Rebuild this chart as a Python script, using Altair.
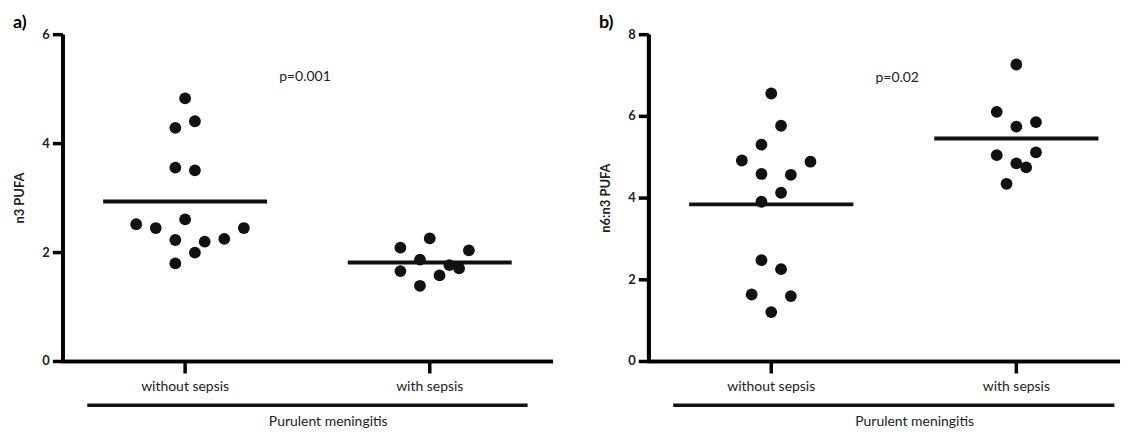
import altair as alt
import pandas as pd

# ---- data ----
groups = ["without sepsis", "with sepsis"]

# panel a) n3 PUFA
a_without = [4.83, 4.29, 4.41, 3.56, 3.51, 2.52, 2.45, 2.61, 2.23, 2.20, 2.25, 2.45, 2.00, 1.80]
a_without_slot = [0, -1, 1, -1, 1, -5, -3, 0, -1, 2, 4, 6, 1, -1]
a_with = [2.09, 2.26, 2.04, 1.87, 1.66, 1.77, 1.71, 1.58, 1.39]
a_with_slot = [-3, 0, 4, -1, -3, 2, 3, 1, -1]

# panel b) n6:n3 PUFA
b_without = [6.56, 5.77, 5.31, 4.92, 4.89, 4.59, 4.57, 4.13, 3.91, 2.48, 2.26, 1.64, 1.60, 1.21]
b_without_slot = [0, 1, -1, -3, 4, -1, 2, 1, -1, -1, 1, -2, 2, 0]
b_with = [7.27, 6.11, 5.75, 5.86, 5.05, 5.12, 4.85, 4.75, 4.35]
b_with_slot = [0, -2, 0, 2, -2, 2, 0, 1, -1]

y_ticks_a = [0, 2, 4, 6]
y_ticks_b = [0, 2, 4, 6, 8]

FONT = "Lato"
INK = "#111111"
TXT = "#222222"
H = 328
AXW = 3.5


def panel(tag, ytitle, yticks, without, wslot, with_, wthslot, ptext, p_x, p_y, width, xmax):
    rows = []
    for v, s in zip(without, wslot):
        rows.append({"g": 0, "v": v, "slot": s})
    for v, s in zip(with_, wthslot):
        rows.append({"g": 1, "v": v, "slot": s})
    df = pd.DataFrame(rows)

    xscale = alt.Scale(domain=[-0.5, xmax], nice=False, zero=False)
    yscale = alt.Scale(domain=[yticks[0], yticks[-1]], nice=False)

    def X(f):
        return alt.X(f, type="quantitative", scale=xscale, axis=None)

    def Y(f):
        return alt.Y(f, type="quantitative", scale=yscale, axis=None)

    base = alt.Chart(df)
    pts = base.transform_calculate(xp="datum.g + datum.slot * 0.04").mark_circle(
        size=140, color=INK, opacity=1).encode(x=X("xp"), y=Y("v"))

    mean = base.transform_aggregate(m="mean(v)", groupby=["g"]).transform_calculate(
        x1="datum.g - 0.335", x2="datum.g + 0.335").mark_rule(
        strokeWidth=4, color=INK).encode(x=X("x1"), x2="x2:Q", y=Y("m"))

    txt = alt.Chart(pd.DataFrame({"t": [ptext]})).transform_calculate(
        px=str(p_x), py=str(p_y)).mark_text(
        font=FONT, fontSize=14, color=TXT).encode(x=X("px"), y=Y("py"), text="t:N")

    # ---- y axis (drawn from the scale) ----
    ydf = pd.DataFrame({"v": yticks})
    ydomain = alt.Chart(ydf).mark_rule(strokeWidth=AXW, color="black").encode(
        x=alt.value(0), y=alt.value(0), y2=alt.value(H + 1.5))
    yticks_m = alt.Chart(ydf).mark_rule(strokeWidth=AXW, color="black").encode(
        y=Y("v"), x=alt.value(-10), x2=alt.value(0))
    ylabels = alt.Chart(ydf).mark_text(
        font=FONT, fontSize=13, fontWeight="bold", color=TXT, align="right",
        baseline="middle").encode(y=Y("v"), x=alt.value(-13), text=alt.Text("v:Q", format="d"))
    ytitle_m = alt.Chart(pd.DataFrame({"t": [ytitle]})).mark_text(
        font=FONT, fontSize=13, fontWeight="bold", color=TXT, angle=270,
        align="center", baseline="middle").encode(
        x=alt.value(-43), y=alt.value(H / 2), text="t:N")

    # ---- x axis ----
    xdf = pd.DataFrame({"g": [0, 1], "name": groups})
    xdomain = alt.Chart(xdf).mark_rule(strokeWidth=AXW, color="black").encode(
        x=alt.value(-1.5), x2=alt.value(width), y=alt.value(H))
    xticks_m = alt.Chart(xdf).mark_rule(strokeWidth=AXW, color="black").encode(
        x=X("g"), y=alt.value(H), y2=alt.value(H + 12))
    xlabels = alt.Chart(xdf).mark_text(
        font=FONT, fontSize=14, color=TXT, baseline="middle").encode(
        x=X("g"), y=alt.value(H + 26), text="name:N")

    lab = pd.DataFrame({"t": ["Purulent meningitis"]})
    bracket = alt.Chart(lab).transform_calculate(bx1="-0.4", bx2="1.4").mark_rule(
        strokeWidth=3.5, color=INK).encode(x=X("bx1"), x2="bx2:Q", y=alt.value(H + 44))
    btxt = alt.Chart(lab).transform_calculate(bx="0.585").mark_text(
        font=FONT, fontSize=14, color=TXT, baseline="middle").encode(
        x=X("bx"), y=alt.value(H + 61), text="t:N")

    tg = alt.Chart(pd.DataFrame({"t": [tag]})).mark_text(
        font=FONT, fontSize=18, fontWeight="bold", color="black", align="left",
        baseline="top").encode(x=alt.value(-50), y=alt.value(-21), text="t:N")

    return alt.layer(pts, mean, txt, ydomain, yticks_m, ylabels, ytitle_m,
                     xdomain, xticks_m, xlabels, bracket, btxt, tg).properties(
        width=width, height=H)


pa = panel("a)", "n3 PUFA", y_ticks_a, a_without, a_without_slot, a_with, a_with_slot,
           "p=0.001", 0.49, 5.22, 492, 1.504)
pb = panel("b)", "n6:n3 PUFA", y_ticks_b, b_without, b_without_slot, b_with, b_with_slot,
           "p=0.02", 0.514, 6.93, 473, 1.423)

chart = (
    alt.hconcat(pa, pb, spacing=44)
    .properties(padding={"left": 5, "top": 5, "right": 5, "bottom": 0})
    .configure(background="white")
    .configure_view(stroke=None)
)

chart.save("out.html", embed_options={"renderer": "svg", "actions": False})
